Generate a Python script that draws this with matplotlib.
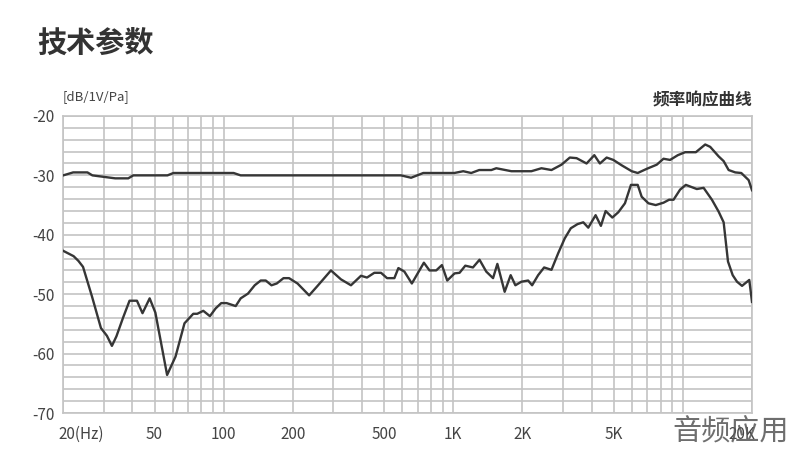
import matplotlib
matplotlib.use("Agg")
import numpy as np
import matplotlib.pyplot as plt
import matplotlib.transforms as mtransforms

plt.rcParams['font.family'] = ['Noto Sans CJK SC', 'DejaVu Sans']

# upper curve
freq_hi = [20, 22.1, 25.5, 26.8, 33.7, 38.4, 40.4, 56.9, 60.4, 110.5, 118.6, 592,
           655, 740, 1010, 1105, 1197, 1297, 1465, 1539, 1791, 2189, 2421, 2677,
           2960, 3218, 3443, 3806, 4114, 4351, 4656, 4979, 5411, 5985, 6357, 6959,
           7694, 8233, 8794, 9505, 10230, 11390, 12510, 13150, 14310, 15050, 15820,
           16910, 17960, 19340, 20000]
db_hi = [-30, -29.5, -29.5, -30, -30.5, -30.5, -30, -30, -29.6, -29.6, -30, -30,
         -30.4, -29.6, -29.6, -29.3, -29.6, -29.1, -29.1, -28.8, -29.3, -29.3, -28.8, -29.1,
         -28.2, -27.0, -27.1, -28.0, -26.6, -28.0, -27.0, -27.4, -28.3, -29.3, -29.6, -28.9,
         -28.2, -27.2, -27.4, -26.6, -26.1, -26.1, -24.8, -25.2, -26.8, -27.6, -29.1,
         -29.5, -29.6, -30.8, -32.5]

# lower curve
freq_lo = [20, 22.2, 23.3, 24.4, 26.7, 29.2, 31.0, 32.6, 34.1, 36.5, 38.9, 41.9,
           44.3, 47.6, 50.4, 56.7, 61.7, 67.5, 73.7, 76.7, 81.5, 87.1, 92.2, 97.6,
           103, 112.8, 118.6, 127.6, 136.5, 145, 152.5, 161.5, 170.3, 182.2, 192.6,
           209.7, 235.6, 256.4, 293.2, 324.1, 358.4, 396.3, 420.9, 452.9, 484.5, 514.6,
           553.9, 576.6, 612.5, 660, 744.6, 787.8, 842.6, 892.2, 941.2, 1013, 1065,
           1128, 1218, 1301, 1392, 1490, 1556, 1674, 1778, 1864, 1980, 2118, 2205,
           2342, 2487, 2677, 2864, 3059, 3250, 3478, 3683, 3872, 4168, 4395, 4608,
           4929, 5235, 5593, 5940, 6357, 6615, 7078, 7617, 8233, 8710, 9104, 9724,
           10300, 11500, 12310, 13380, 14310, 15050, 15720, 16480, 17210, 18100,
           19460, 20000]
db_lo = [-42.7, -43.6, -44.4, -45.4, -50.4, -55.7, -57.0, -58.7, -57.1, -53.9, -51.1, -51.1,
         -53.2, -50.7, -53.1, -63.6, -60.5, -54.9, -53.3, -53.3, -52.8, -53.7, -52.4, -51.5,
         -51.5, -52.0, -50.7, -49.9, -48.5, -47.7, -47.7, -48.5, -48.2, -47.3, -47.3,
         -48.2, -50.2, -48.6, -46.0, -47.5, -48.5, -46.9, -47.2, -46.4, -46.4, -47.3,
         -47.3, -45.6, -46.2, -48.2, -44.7, -46.0, -46.0, -45.1, -47.7, -46.5, -46.4,
         -45.2, -45.5, -44.2, -46.2, -47.3, -44.9, -49.6, -46.8, -48.5, -47.9, -47.7, -48.5,
         -46.8, -45.5, -45.9, -43.1, -40.6, -38.9, -38.2, -37.9, -38.8, -36.7, -38.5, -36.0,
         -37.1, -36.2, -34.7, -31.6, -31.6, -33.6, -34.7, -35.0, -34.6, -34.1, -34.1, -32.4,
         -31.6, -32.3, -32.1, -34.1, -36.1, -37.9, -44.5, -46.8, -47.9, -48.6,
         -47.6, -51.3]

xticks = [20, 50, 100, 200, 500, 1000, 2000, 5000, 20000]
xlabels = ['20(Hz)', '50', '100', '200', '500', '1K', '2K', '5K', '20K']
yticks = [-20, -30, -40, -50, -60, -70]

grid_c = '#c4c4c4'
line_c = '#363636'

fig = plt.figure(figsize=(8, 4.53), dpi=100)
ax = fig.add_axes([0.079, 0.0883, 0.861, 0.6557])

ax.set_xscale('log')
ax.set_xlim(20, 20000)
ax.set_ylim(-70, -20)

# grid
vlines = list(range(20, 100, 10)) + list(range(100, 1000, 100)) + \
    list(range(1000, 10000, 1000)) + [10000, 20000]
for v in vlines:
    ax.axvline(v, color=grid_c, lw=1.2, zorder=1)
for h in np.arange(-70, -19, 2):
    ax.axhline(h, color=grid_c, lw=1.2, zorder=1)

ax.plot(freq_hi, db_hi, color=line_c, lw=1.7, zorder=3)
ax.plot(freq_lo, db_lo, color=line_c, lw=1.7, zorder=3)

for s in ax.spines.values():
    s.set_color(grid_c)
    s.set_linewidth(1.2)

ax.minorticks_off()
ax.set_xticks(xticks)
ax.set_xticklabels(xlabels)
ax.set_yticks(yticks)
ax.set_yticklabels([str(t) for t in yticks])
ax.tick_params(length=0, labelsize=11, colors='#444444', pad=6)
ax.tick_params(axis='x', pad=9)
tl = ax.get_xticklabels()
tl[0].set_ha('left')
tl[0].set_transform(tl[0].get_transform() +
                    mtransforms.ScaledTranslation(-5 / 100, 0, fig.dpi_scale_trans))
tl[-1].set_ha('right')
tl[-1].set_transform(tl[-1].get_transform() +
                     mtransforms.ScaledTranslation(3 / 100, 0, fig.dpi_scale_trans))

fig.text(0.047, 0.905, '技术参数', fontsize=21, fontweight='bold', color='#333333', va='center')
fig.text(0.078, 0.786, '[dB/1V/Pa]', fontsize=9.5, color='#444444', va='center')
fig.text(0.94, 0.778, '频率响应曲线', fontsize=12, fontweight='bold', color='#333333',
         va='center', ha='right')
fig.text(0.84, 0.048, '音频应用', fontsize=21, fontweight='light', color='#555555',
         va='center', ha='left', alpha=0.85)

fig.savefig('out.png', dpi=100, facecolor='white')
